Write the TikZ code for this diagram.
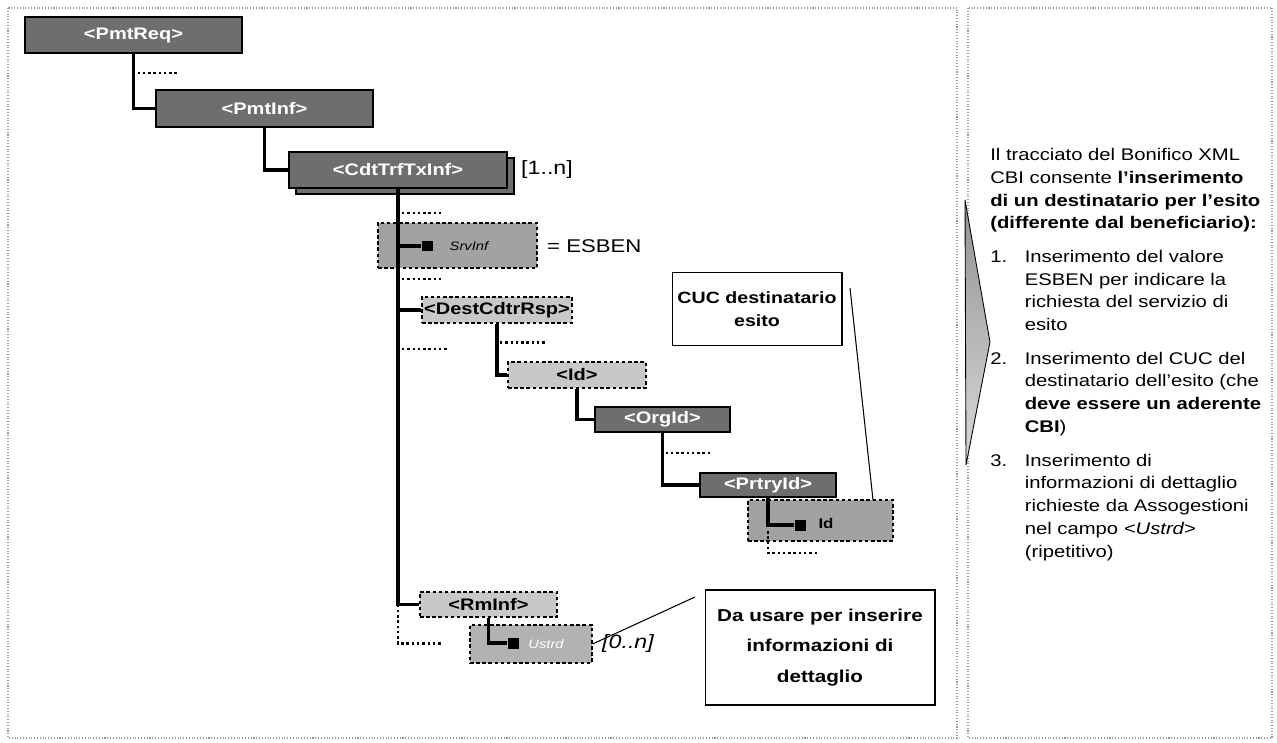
\documentclass[tikz,border=0pt]{standalone}
\usepackage{fontspec}
\setmainfont[FakeStretch=1.2]{Liberation Sans}
\usetikzlibrary{shadows}
\definecolor{darkbox}{HTML}{6E6E6E}
\definecolor{lightbox}{HTML}{C8C8C8}
\definecolor{midbox}{HTML}{A2A2A2}
\definecolor{framegray}{HTML}{9A9A9A}
\begin{document}
\begin{tikzpicture}[x=0.02cm,y=-0.02cm,elem/.style={draw=black,line width=1.2pt,fill=darkbox,text=white,font=\fontsize{9.5}{11}\selectfont\bfseries,inner sep=0pt},opt/.style={draw=black,line width=0.6pt,dash pattern=on 2pt off 1.5pt,fill=lightbox,font=\fontsize{9.5}{11}\selectfont\bfseries,inner sep=0pt},leaf/.style={opt,fill=midbox},sq/.style={fill=black,minimum size=0.22cm,inner sep=0pt},tree/.style={line width=1.8pt},dots/.style={line width=1.4pt,dash pattern=on 1.4pt off 1.6pt},callout/.style={draw=black,line width=0.6pt,fill=white,align=center,inner sep=0pt},frame/.style={draw=framegray,line width=0.6pt,densely dotted}]
\useasboundingbox (0,0) rectangle (1277,743);
\draw[frame] (8,8) rectangle (957,738);
\draw[frame] (968,8) rectangle (1272,738);
\node[elem,minimum width=4.34cm,minimum height=0.72cm](pmtreq) at (133.5,35){<PmtReq>};
\node[elem,minimum width=4.34cm,minimum height=0.74cm](pmtinf) at (264.5,108.5){<PmtInf>};
\node[elem,minimum width=4.36cm,minimum height=0.72cm,copy shadow={shadow xshift=0.14cm,shadow yshift=-0.12cm}](cdttrf) at (398,170){<CdtTrfTxInf>};
\node[anchor=west,font=\fontsize{11}{13}\selectfont](card1) at (515,170){[1..n]};
\node[leaf,minimum width=3.18cm,minimum height=0.9cm](srvinf) at (457.5,245.5){};
\node[sq](srvsq) at (427,246){};
\node[font=\fontsize{7}{8}\selectfont\itshape](srvlbl) at (469,246){SrvInf};
\node[anchor=west,font=\fontsize{10.5}{12}\selectfont](esben) at (541,246){= ESBEN};
\node[opt,minimum width=3cm,minimum height=0.52cm](dest) at (497,310){<DestCdtrRsp>};
\node[opt,minimum width=2.76cm,minimum height=0.52cm](idn) at (577,375){<Id>};
\node[elem,minimum width=2.7cm,minimum height=0.5cm](orgid) at (662.5,419.5){<OrgId>};
\node[elem,minimum width=2.72cm,minimum height=0.48cm](prtryid) at (768,485){<PrtryId>};
\node[leaf,minimum width=2.9cm,minimum height=0.82cm](idleaf) at (820.5,520.5){};
\node[sq](idsq) at (800,525){};
\node[font=\fontsize{8}{9}\selectfont\bfseries](idlbl) at (826,523){Id};
\node[opt,minimum width=2.74cm,minimum height=0.5cm](rmtinf) at (488.5,604.5){<RmInf>};
\node[leaf,fill=gray!60,minimum width=2.44cm,minimum height=0.76cm](ustrd) at (531,644){};
\node[sq](ustsq) at (513,643){};
\node[text=white,font=\fontsize{7}{8}\selectfont\itshape](ustlbl) at (546,644){Ustrd};
\node[anchor=west,font=\fontsize{11}{13}\selectfont\itshape](card2) at (596,643){[0..n]};
\node[callout,minimum width=3.4cm,minimum height=1.46cm,font=\fontsize{9.3}{13}\selectfont\bfseries](cuc) at (757,309){CUC destinatario\\esito};
\node[callout,minimum width=4.6cm,minimum height=2.3cm,font=\fontsize{9.8}{17.5}\selectfont\bfseries](dausare) at (820,647.5){Da usare per inserire\\informazioni di\\dettaglio};
\draw[tree](pmtreq.south)|-(pmtinf.west);
\draw[tree](pmtinf.south)|-(cdttrf.west);
\draw[tree](cdttrf.south)|-(rmtinf.west);
\draw[tree](cdttrf.south|-srvsq)--(srvsq);
\draw[tree](cdttrf.south|-dest)--(dest.west);
\draw[tree](dest.south)|-(idn.west);
\draw[tree](idn.south)|-(orgid.west);
\draw[tree](orgid.south)|-(prtryid.west);
\draw[tree](prtryid.south)|-(idsq);
\draw[tree](rmtinf.south)|-(ustsq);
\draw[dots](pmtreq.south)++(4,19)--++(42,0);
\draw[dots](cdttrf.south)++(4,24)--++(42,0);
\draw[dots](cdttrf.south)++(4,90)--++(42,0);
\draw[dots](cdttrf.south)++(4,160)--++(45,0);
\draw[dots](dest.south)++(3,19)--++(45,0);
\draw[dots](orgid.south)++(3,20)--++(45,0);
\draw[dots](prtryid.south)++(0,33)--++(0,22)--++(50,0);
\draw[dots](cdttrf.south|-rmtinf.west)--++(0,39)--++(45,0);
\coordinate(cucfrom) at (850,288);
\coordinate(cucto) at (873,500);
\draw[line width=0.6pt](cucfrom)--(cucto);
\coordinate(dato) at (695,597);
\draw[line width=0.6pt](ustrd.east)--(dato);
\shade[top color=gray!85,bottom color=gray!30,draw=black,line width=0.5pt](965,200)--(990,342)--(966,465)--cycle;
\node[anchor=north west,inner sep=0pt,font=\fontsize{9.6}{13}\selectfont](notes) at (990,144){\begin{tabular}{@{}l@{\hspace{10pt}}l@{}}
\multicolumn{2}{@{}l@{}}{Il tracciato del Bonifico XML}\\
\multicolumn{2}{@{}l@{}}{CBI consente \textbf{l’inserimento}}\\
\multicolumn{2}{@{}l@{}}{\textbf{di un destinatario per l’esito}}\\
\multicolumn{2}{@{}l@{}}{\textbf{(differente dal beneficiario):}}\\[6pt]
1. & Inserimento del valore\\
 & ESBEN per indicare la\\
 & richiesta del servizio di\\
 & esito\\[6pt]
2. & Inserimento del CUC del\\
 & destinatario dell’esito (che\\
 & \textbf{deve essere un aderente}\\
 & \textbf{CBI})\\[6pt]
3. & Inserimento di\\
 & informazioni di dettaglio\\
 & richieste da Assogestioni\\
 & nel campo \textit{<Ustrd>}\\
 & (ripetitivo)
\end{tabular}};
\end{tikzpicture}
\end{document}
